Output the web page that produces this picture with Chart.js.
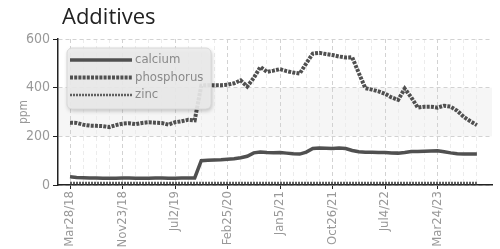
<!DOCTYPE html>
<html>
<head>
<meta charset="utf-8">
<script src="https://cdn.jsdelivr.net/npm/chart.js@4.4.1/dist/chart.umd.min.js"></script>
<style>
    html, body { margin: 0; padding: 0; background: #fff; }
    #contenedor { position: relative; width: 500px; height: 249px; }
    #grafica { position: absolute; left: 0; top: 0; }
    #titulo { position: absolute; left: 62px; top: 0px; font: 22px 'Open Sans', sans-serif; color: #222; }
</style>
</head>
<body>
<div id="contenedor">
    <canvas id="grafica" width="500" height="249"></canvas>
    <div id="titulo">Additives</div>
</div>
<script>
// Datos
const fechas = [
    'Mar28/18', 'Apr27/18', 'May29/18', 'Jun26/18', 'Jul27/18', 'Aug24/18', 'Sep25/18', 'Oct24/18',
    'Nov23/18', 'Dec20/18', 'Jan17/19', 'Feb14/19', 'Mar14/19', 'Apr11/19', 'May8/19', 'Jun5/19',
    'Jul2/19', 'Aug1/19', 'Aug30/19', 'Sep30/19', 'Oct29/19', 'Nov27/19', 'Dec27/19', 'Jan27/20',
    'Feb25/20', 'Apr6/20', 'May14/20', 'Jun22/20', 'Jul30/20', 'Sep8/20', 'Oct16/20', 'Nov24/20',
    'Jan5/21', 'Feb11/21', 'Mar19/21', 'Apr26/21', 'Jun1/21', 'Jul9/21', 'Aug13/21', 'Sep20/21',
    'Oct26/21', 'Nov29/21', 'Dec28/21', 'Jan31/22', 'Mar3/22', 'Apr4/22', 'May5/22', 'Jun2/22',
    'Jul4/22', 'Aug5/22', 'Sep7/22', 'Oct10/22', 'Nov10/22', 'Dec14/22', 'Jan17/23', 'Feb20/23',
    'Mar24/23', 'Apr26/23', 'May30/23', 'Jul3/23', 'Aug4/23', 'Sep7/23', 'Oct10/23'
];

const calcio = [
    34, 31, 30, 29, 29, 28, 28, 28, 29, 29, 28, 28, 28, 29, 29, 28, 28, 29, 29, 29,
    100, 102, 103, 104, 106, 108, 112, 118, 132, 136, 134, 133, 134, 131, 128, 127,
    135, 150, 152, 151, 150, 152, 150, 142, 137, 135, 135, 134, 134, 132, 131, 134,
    138, 138, 139, 140, 141, 137, 132, 128, 127, 127, 127
];

const fosforo = [
    256, 255, 248, 244, 243, 242, 238, 246, 252, 254, 250, 255, 258, 256, 255, 248,
    258, 262, 268, 266, 408, 410, 410, 410, 412, 418, 430, 405, 440, 485, 465, 470,
    476, 468, 462, 458, 500, 540, 543, 538, 534, 528, 524, 525, 460, 398, 392, 385,
    375, 360, 350, 396, 360, 318, 322, 322, 318, 326, 322, 305, 280, 262, 246
];

const zinc = [
    8, 8, 8, 8, 8, 8, 8, 8, 8, 8, 8, 8, 8, 8, 8, 8, 8, 8, 8, 8,
    8, 8, 8, 8, 8, 8, 8, 8, 8, 8, 8, 8, 8, 8, 8, 8, 8, 8, 8, 8,
    8, 8, 8, 8, 8, 8, 8, 8, 8, 8, 8, 8, 8, 8, 8, 8, 8, 8, 8, 8,
    8, 8, 8
];

const ticksY = [0, 200, 400, 600];

const fuenteEstrecha = "'Liberation Sans Narrow', 'DejaVu Sans Condensed', Roboto, sans-serif";

// pasar cada serie a puntos {x, y}
function puntos(serie) {
    return serie.map((v, i) => ({ x: i, y: v }));
}

// Banda gris entre 200 y 400
const banda = {
    id: 'banda',
    beforeDraw(chart) {
        const { ctx, chartArea, scales } = chart;
        const y1 = scales.y.getPixelForValue(400);
        const y2 = scales.y.getPixelForValue(200);
        ctx.save();
        ctx.fillStyle = '#f6f6f6';
        ctx.fillRect(chartArea.left, y1, chartArea.right - chartArea.left, y2 - y1);
        ctx.restore();
    }
};

// Leyenda dibujada a mano dentro del area del grafico
const leyenda = {
    id: 'leyenda',
    afterDatasetsDraw(chart) {
        const ctx = chart.ctx;
        const x = 67, y = 48, w = 144, h = 61;
        ctx.save();
        ctx.shadowColor = 'rgba(0,0,0,0.25)';
        ctx.shadowBlur = 4;
        ctx.shadowOffsetX = 1;
        ctx.shadowOffsetY = 2;
        ctx.fillStyle = 'rgba(236,236,236,0.9)';
        ctx.beginPath();
        ctx.roundRect(x, y, w, h, 5);
        ctx.fill();
        ctx.shadowColor = 'transparent';
        ctx.strokeStyle = '#d8d8d8';
        ctx.lineWidth = 1;
        ctx.stroke();

        chart.data.datasets.forEach((ds, i) => {
            const fy = y + 12 + i * 17.5;
            ctx.beginPath();
            ctx.setLineDash(ds.borderDash || []);
            ctx.lineWidth = ds.borderWidth;
            ctx.strokeStyle = ds.borderColor;
            ctx.moveTo(x + 3, fy);
            ctx.lineTo(x + 65, fy);
            ctx.stroke();
            ctx.setLineDash([]);
            ctx.fillStyle = '#8a8a8a';
            ctx.font = '13px ' + fuenteEstrecha;
            ctx.textBaseline = 'middle';
            ctx.fillText(ds.label, x + 68, fy);
        });
        ctx.restore();
    }
};

new Chart(document.getElementById('grafica'), {
    type: 'line',
    data: {
        datasets: [
            { label: 'calcium', data: puntos(calcio), borderColor: '#505050', borderWidth: 3.5, pointRadius: 0, tension: 0 },
            { label: 'phosphorus', data: puntos(fosforo), borderColor: '#505050', borderWidth: 4, borderDash: [3, 1.2], pointRadius: 0, tension: 0 },
            { label: 'zinc', data: puntos(zinc), borderColor: '#606060', borderWidth: 2.5, borderDash: [2, 1], pointRadius: 0, tension: 0 }
        ]
    },
    options: {
        responsive: false,
        animation: false,
        devicePixelRatio: 1,
        layout: { padding: { top: 39, right: 8, left: 0, bottom: 0 } },
        plugins: {
            legend: { display: false },
            tooltip: { enabled: false }
        },
        scales: {
            x: {
                type: 'linear',
                min: -1.83,
                max: 64.3,
                afterBuildTicks: (s) => {
                    s.ticks = fechas.map((f, i) => ({ value: i })).filter(t => t.value % 2 === 0);
                },
                afterFit: (s) => { s.height = 64; },
                ticks: {
                    autoSkip: false,
                    minRotation: 90,
                    maxRotation: 90,
                    padding: 2,
                    color: '#999',
                    font: { family: fuenteEstrecha, size: 13 },
                    callback: (v) => (v % 8 === 0 ? fechas[v] : '')
                },
                grid: {
                    color: (c) => (c.tick && c.tick.value % 8 === 0 ? '#d2d2d2' : '#ececec'),
                    tickColor: (c) => (c.tick && c.tick.value % 8 === 0 ? '#222' : 'rgba(0,0,0,0)'),
                    tickLength: 4
                },
                border: { color: '#222', width: 1.5, dash: [4, 3] }
            },
            y: {
                min: 0,
                max: 600,
                afterBuildTicks: (s) => { s.ticks = ticksY.map(v => ({ value: v })); },
                afterFit: (s) => { s.width = 58; },
                ticks: {
                    padding: 3,
                    color: '#999',
                    font: { family: fuenteEstrecha, size: 14 }
                },
                title: {
                    display: true,
                    text: 'ppm',
                    color: '#999',
                    font: { family: fuenteEstrecha, size: 12 },
                    padding: { top: 17, bottom: 0 }
                },
                grid: { color: '#d2d2d2', tickColor: '#222', tickLength: 5 },
                border: { color: '#222', width: 1.5, dash: [4, 3] }
            }
        }
    },
    plugins: [banda, leyenda]
});
</script>
</body>
</html>
